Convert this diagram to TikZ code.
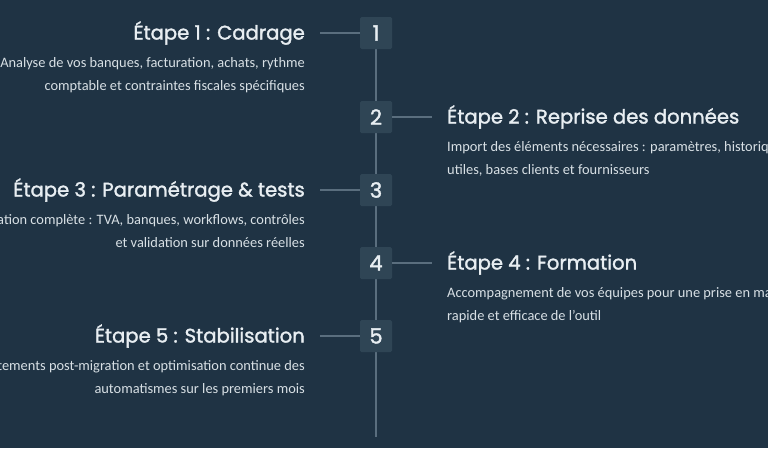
\documentclass[tikz,border=0pt]{standalone}
\usepackage{fontspec}
\setmainfont{Carlito}
\newfontfamily\headfont{Poppins}[FakeBold=1.6]
\definecolor{bgc}{HTML}{1F3344}
\definecolor{boxc}{HTML}{2F4555}
\definecolor{linec}{HTML}{5A6E7E}
\definecolor{titlec}{HTML}{E8EEF2}
\definecolor{bodyc}{HTML}{D8E0E5}
\tikzset{
  numbox/.style={fill=boxc, rounded corners=1.5pt, minimum width=32pt, minimum height=32pt, inner sep=0pt, text=titlec, font=\headfont\fontsize{21}{21}\selectfont},
  ttl/.style={inner sep=0pt, text=titlec, font=\headfont\fontsize{19.6}{22}\selectfont},
  bdy/.style={inner sep=0pt, text=bodyc, font=\fontsize{14.4}{16}\selectfont},
  conn/.style={draw=linec, line width=1.3pt}
}
\begin{document}
\begin{tikzpicture}[x=1pt,y=-1pt]
\useasboundingbox (0,0) rectangle (768,448);
\fill[bgc] (0,0) rectangle (768,448);
\clip (0,0) rectangle (768,448);
% spine
\coordinate (top) at (376,18);
\coordinate (bot) at (376,437);
\draw[conn] (top) -- (bot);
% boxes
\node[numbox] (b1) at (376,33) {1};
\node[numbox] (b2) at (376,117) {2};
\node[numbox] (b3) at (376,190) {3};
\node[numbox] (b4) at (376,263) {4};
\node[numbox] (b5) at (376,336) {5};
% connector ends
\coordinate (c1) at (320,33);
\coordinate (c2) at (432,117);
\coordinate (c3) at (320,190);
\coordinate (c4) at (432,263);
\coordinate (c5) at (320,336);
\draw[conn] (c1) -- (b1.west);
\draw[conn] (b2.east) -- (c2);
\draw[conn] (c3) -- (b3.west);
\draw[conn] (b4.east) -- (c4);
\draw[conn] (c5) -- (b5.west);
% step 1
\node[ttl, anchor=base east] (t1) at (305,39.5) {Étape 1 : Cadrage};
\node[bdy, anchor=base east] (d1a) at (305,67) {Analyse de vos banques, facturation, achats, rythme};
\node[bdy, anchor=base east] (d1b) at (305,90) {comptable et contraintes fiscales spécifiques};
% step 2
\node[ttl, anchor=base west] (t2) at (447,123.5) {Étape 2 : Reprise des données};
\node[bdy, anchor=base west] (d2a) at (447,151) {Import des éléments nécessaires : paramètres, historiques};
\node[bdy, anchor=base west] (d2b) at (447,174) {utiles, bases clients et fournisseurs};
% step 3
\node[ttl, anchor=base east] (t3) at (305,196.5) {Étape 3 : Paramétrage \& tests};
\node[bdy, anchor=base east] (d3a) at (305,224) {Configuration complète : TVA, banques, workflows, contrôles};
\node[bdy, anchor=base east] (d3b) at (305,247) {et validation sur données réelles};
% step 4
\node[ttl, anchor=base west] (t4) at (447,269.5) {Étape 4 : Formation};
\node[bdy, anchor=base west] (d4a) at (447,297) {Accompagnement de vos équipes pour une prise en main};
\node[bdy, anchor=base west] (d4b) at (447,320) {rapide et efficace de l'outil};
% step 5
\node[ttl, anchor=base east] (t5) at (305,342.5) {Étape 5 : Stabilisation};
\node[bdy, anchor=base east] (d5a) at (305,370) {Ajustements post-migration et optimisation continue des};
\node[bdy, anchor=base east] (d5b) at (305,393) {automatismes sur les premiers mois};
\end{tikzpicture}
\end{document}
